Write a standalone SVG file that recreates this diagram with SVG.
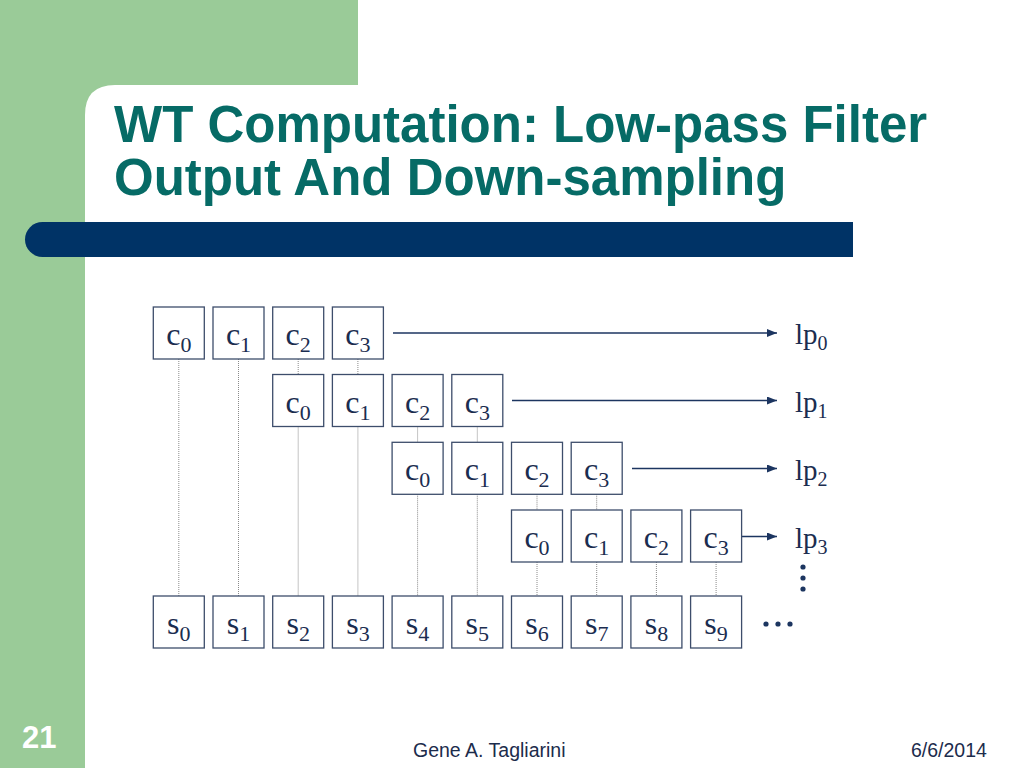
<svg xmlns="http://www.w3.org/2000/svg" width="1024" height="768" viewBox="0 0 1024 768">
<defs>
<style>
.bx{fill:#fff;stroke:#3d4d6b;stroke-width:1.3}
.bt{font-family:"Liberation Serif","Times New Roman",serif;font-size:32px;fill:#1b2d50;text-anchor:middle}
.sub{font-size:22px}
.lp{font-family:"Liberation Serif","Times New Roman",serif;font-size:29px;fill:#1b2d50}
.lsub{font-size:20px}
.dot{stroke:#8a8a8a;stroke-width:1;stroke-dasharray:1 1;fill:none}
.arr{stroke:#1c3560;stroke-width:1.5;fill:none;marker-end:url(#ah)}
.ttl{font-family:"Liberation Sans",Arial,sans-serif;font-weight:bold;font-size:51px;fill:#066b66}
.ft{font-family:"Liberation Sans",Arial,sans-serif;font-size:19.5px;fill:#1c2c4c}
</style>
<marker id="ah" viewBox="0 0 10 8" refX="10" refY="4" markerWidth="10" markerHeight="8" markerUnits="userSpaceOnUse" orient="auto">
<path d="M0,0 L10,4 L0,8 z" fill="#1c3560"/>
</marker>
</defs>
<g id="background">
<rect x="0" y="0" width="1024" height="768" fill="#9acb98"/>
<rect x="358" y="0" width="666" height="86" fill="#fff"/>
<path d="M85,768 L85,115 Q85,85 115,85 L1024,85 L1024,768 Z" fill="#fff"/>
<path d="M42.5,222 L853,222 L853,257 L42.5,257 A17.5,17.5 0 0 1 42.5,222 Z" fill="#003366"/>
</g>
<g id="title">
<text class="ttl" x="114" y="142">WT Computation: Low-pass Filter</text>
<text class="ttl" x="114" y="195">Output And Down-sampling</text>
</g>
<g id="connectors">
<line class="dot" x1="178.8" y1="359" x2="178.8" y2="596"/>
<line class="dot" x1="238.5" y1="359" x2="238.5" y2="596"/>
<line class="dot" x1="298.2" y1="359" x2="298.2" y2="374.5"/>
<line class="dot" x1="298.2" y1="426.5" x2="298.2" y2="596"/>
<line class="dot" x1="357.9" y1="359" x2="357.9" y2="374.5"/>
<line class="dot" x1="357.9" y1="426.5" x2="357.9" y2="596"/>
<line class="dot" x1="417.6" y1="426.5" x2="417.6" y2="442.3"/>
<line class="dot" x1="417.6" y1="494.3" x2="417.6" y2="596"/>
<line class="dot" x1="477.3" y1="426.5" x2="477.3" y2="442.3"/>
<line class="dot" x1="477.3" y1="494.3" x2="477.3" y2="596"/>
<line class="dot" x1="537" y1="494.3" x2="537" y2="510"/>
<line class="dot" x1="537" y1="562" x2="537" y2="596"/>
<line class="dot" x1="596.7" y1="494.3" x2="596.7" y2="510"/>
<line class="dot" x1="596.7" y1="562" x2="596.7" y2="596"/>
<line class="dot" x1="656.4" y1="562" x2="656.4" y2="596"/>
<line class="dot" x1="716.1" y1="562" x2="716.1" y2="596"/>
<line class="arr" x1="393" y1="333" x2="777" y2="333"/>
<line class="arr" x1="512" y1="400.5" x2="777" y2="400.5"/>
<line class="arr" x1="632" y1="468.5" x2="777" y2="468.5"/>
<line class="arr" x1="742" y1="536.5" x2="777" y2="536.5"/>
</g>
<g id="row0">
<g id="r0c0"><rect class="bx" x="153.3" y="307" width="51" height="52"/><text class="bt" x="178.8" y="345">c<tspan class="sub" dy="7">0</tspan></text></g>
<g id="r0c1"><rect class="bx" x="213" y="307" width="51" height="52"/><text class="bt" x="238.5" y="345">c<tspan class="sub" dy="7">1</tspan></text></g>
<g id="r0c2"><rect class="bx" x="272.7" y="307" width="51" height="52"/><text class="bt" x="298.2" y="345">c<tspan class="sub" dy="7">2</tspan></text></g>
<g id="r0c3"><rect class="bx" x="332.4" y="307" width="51" height="52"/><text class="bt" x="357.9" y="345">c<tspan class="sub" dy="7">3</tspan></text></g>
</g>
<g id="row1">
<g id="r1c0"><rect class="bx" x="272.7" y="374.5" width="51" height="52"/><text class="bt" x="298.2" y="412.5">c<tspan class="sub" dy="7">0</tspan></text></g>
<g id="r1c1"><rect class="bx" x="332.4" y="374.5" width="51" height="52"/><text class="bt" x="357.9" y="412.5">c<tspan class="sub" dy="7">1</tspan></text></g>
<g id="r1c2"><rect class="bx" x="392.1" y="374.5" width="51" height="52"/><text class="bt" x="417.6" y="412.5">c<tspan class="sub" dy="7">2</tspan></text></g>
<g id="r1c3"><rect class="bx" x="451.8" y="374.5" width="51" height="52"/><text class="bt" x="477.3" y="412.5">c<tspan class="sub" dy="7">3</tspan></text></g>
</g>
<g id="row2">
<g id="r2c0"><rect class="bx" x="392.1" y="442.3" width="51" height="52"/><text class="bt" x="417.6" y="480.3">c<tspan class="sub" dy="7">0</tspan></text></g>
<g id="r2c1"><rect class="bx" x="451.8" y="442.3" width="51" height="52"/><text class="bt" x="477.3" y="480.3">c<tspan class="sub" dy="7">1</tspan></text></g>
<g id="r2c2"><rect class="bx" x="511.5" y="442.3" width="51" height="52"/><text class="bt" x="537" y="480.3">c<tspan class="sub" dy="7">2</tspan></text></g>
<g id="r2c3"><rect class="bx" x="571.2" y="442.3" width="51" height="52"/><text class="bt" x="596.7" y="480.3">c<tspan class="sub" dy="7">3</tspan></text></g>
</g>
<g id="row3">
<g id="r3c0"><rect class="bx" x="511.5" y="510" width="51" height="52"/><text class="bt" x="537" y="548">c<tspan class="sub" dy="7">0</tspan></text></g>
<g id="r3c1"><rect class="bx" x="571.2" y="510" width="51" height="52"/><text class="bt" x="596.7" y="548">c<tspan class="sub" dy="7">1</tspan></text></g>
<g id="r3c2"><rect class="bx" x="630.9" y="510" width="51" height="52"/><text class="bt" x="656.4" y="548">c<tspan class="sub" dy="7">2</tspan></text></g>
<g id="r3c3"><rect class="bx" x="690.6" y="510" width="51" height="52"/><text class="bt" x="716.1" y="548">c<tspan class="sub" dy="7">3</tspan></text></g>
</g>
<g id="samples">
<g id="s0"><rect class="bx" x="153.3" y="596" width="51" height="52"/><text class="bt" x="178.8" y="634">s<tspan class="sub" dy="7">0</tspan></text></g>
<g id="s1"><rect class="bx" x="213" y="596" width="51" height="52"/><text class="bt" x="238.5" y="634">s<tspan class="sub" dy="7">1</tspan></text></g>
<g id="s2"><rect class="bx" x="272.7" y="596" width="51" height="52"/><text class="bt" x="298.2" y="634">s<tspan class="sub" dy="7">2</tspan></text></g>
<g id="s3"><rect class="bx" x="332.4" y="596" width="51" height="52"/><text class="bt" x="357.9" y="634">s<tspan class="sub" dy="7">3</tspan></text></g>
<g id="s4"><rect class="bx" x="392.1" y="596" width="51" height="52"/><text class="bt" x="417.6" y="634">s<tspan class="sub" dy="7">4</tspan></text></g>
<g id="s5"><rect class="bx" x="451.8" y="596" width="51" height="52"/><text class="bt" x="477.3" y="634">s<tspan class="sub" dy="7">5</tspan></text></g>
<g id="s6"><rect class="bx" x="511.5" y="596" width="51" height="52"/><text class="bt" x="537" y="634">s<tspan class="sub" dy="7">6</tspan></text></g>
<g id="s7"><rect class="bx" x="571.2" y="596" width="51" height="52"/><text class="bt" x="596.7" y="634">s<tspan class="sub" dy="7">7</tspan></text></g>
<g id="s8"><rect class="bx" x="630.9" y="596" width="51" height="52"/><text class="bt" x="656.4" y="634">s<tspan class="sub" dy="7">8</tspan></text></g>
<g id="s9"><rect class="bx" x="690.6" y="596" width="51" height="52"/><text class="bt" x="716.1" y="634">s<tspan class="sub" dy="7">9</tspan></text></g>
</g>
<g id="outputs">
<g id="lp0"><text class="lp" x="795" y="343.5">lp<tspan class="lsub" dy="6.5">0</tspan></text></g>
<g id="lp1"><text class="lp" x="795" y="411.5">lp<tspan class="lsub" dy="6.5">1</tspan></text></g>
<g id="lp2"><text class="lp" x="795" y="479.5">lp<tspan class="lsub" dy="6.5">2</tspan></text></g>
<g id="lp3"><text class="lp" x="795" y="547.5">lp<tspan class="lsub" dy="6.5">3</tspan></text></g>
</g>
<g id="ellipses" fill="#1c3560">
<circle cx="803" cy="567" r="2.6"/>
<circle cx="803" cy="578" r="2.6"/>
<circle cx="803" cy="589" r="2.6"/>
<circle cx="766" cy="624" r="2.6"/>
<circle cx="778" cy="624" r="2.6"/>
<circle cx="790" cy="624" r="2.6"/>
</g>
<g id="footer">
<text x="22" y="748" font-family="'Liberation Sans',Arial,sans-serif" font-weight="bold" font-size="31" fill="#fff">21</text>
<text class="ft" x="413" y="756.5">Gene A. Tagliarini</text>
<text class="ft" x="911" y="757">6/6/2014</text>
</g>
</svg>
